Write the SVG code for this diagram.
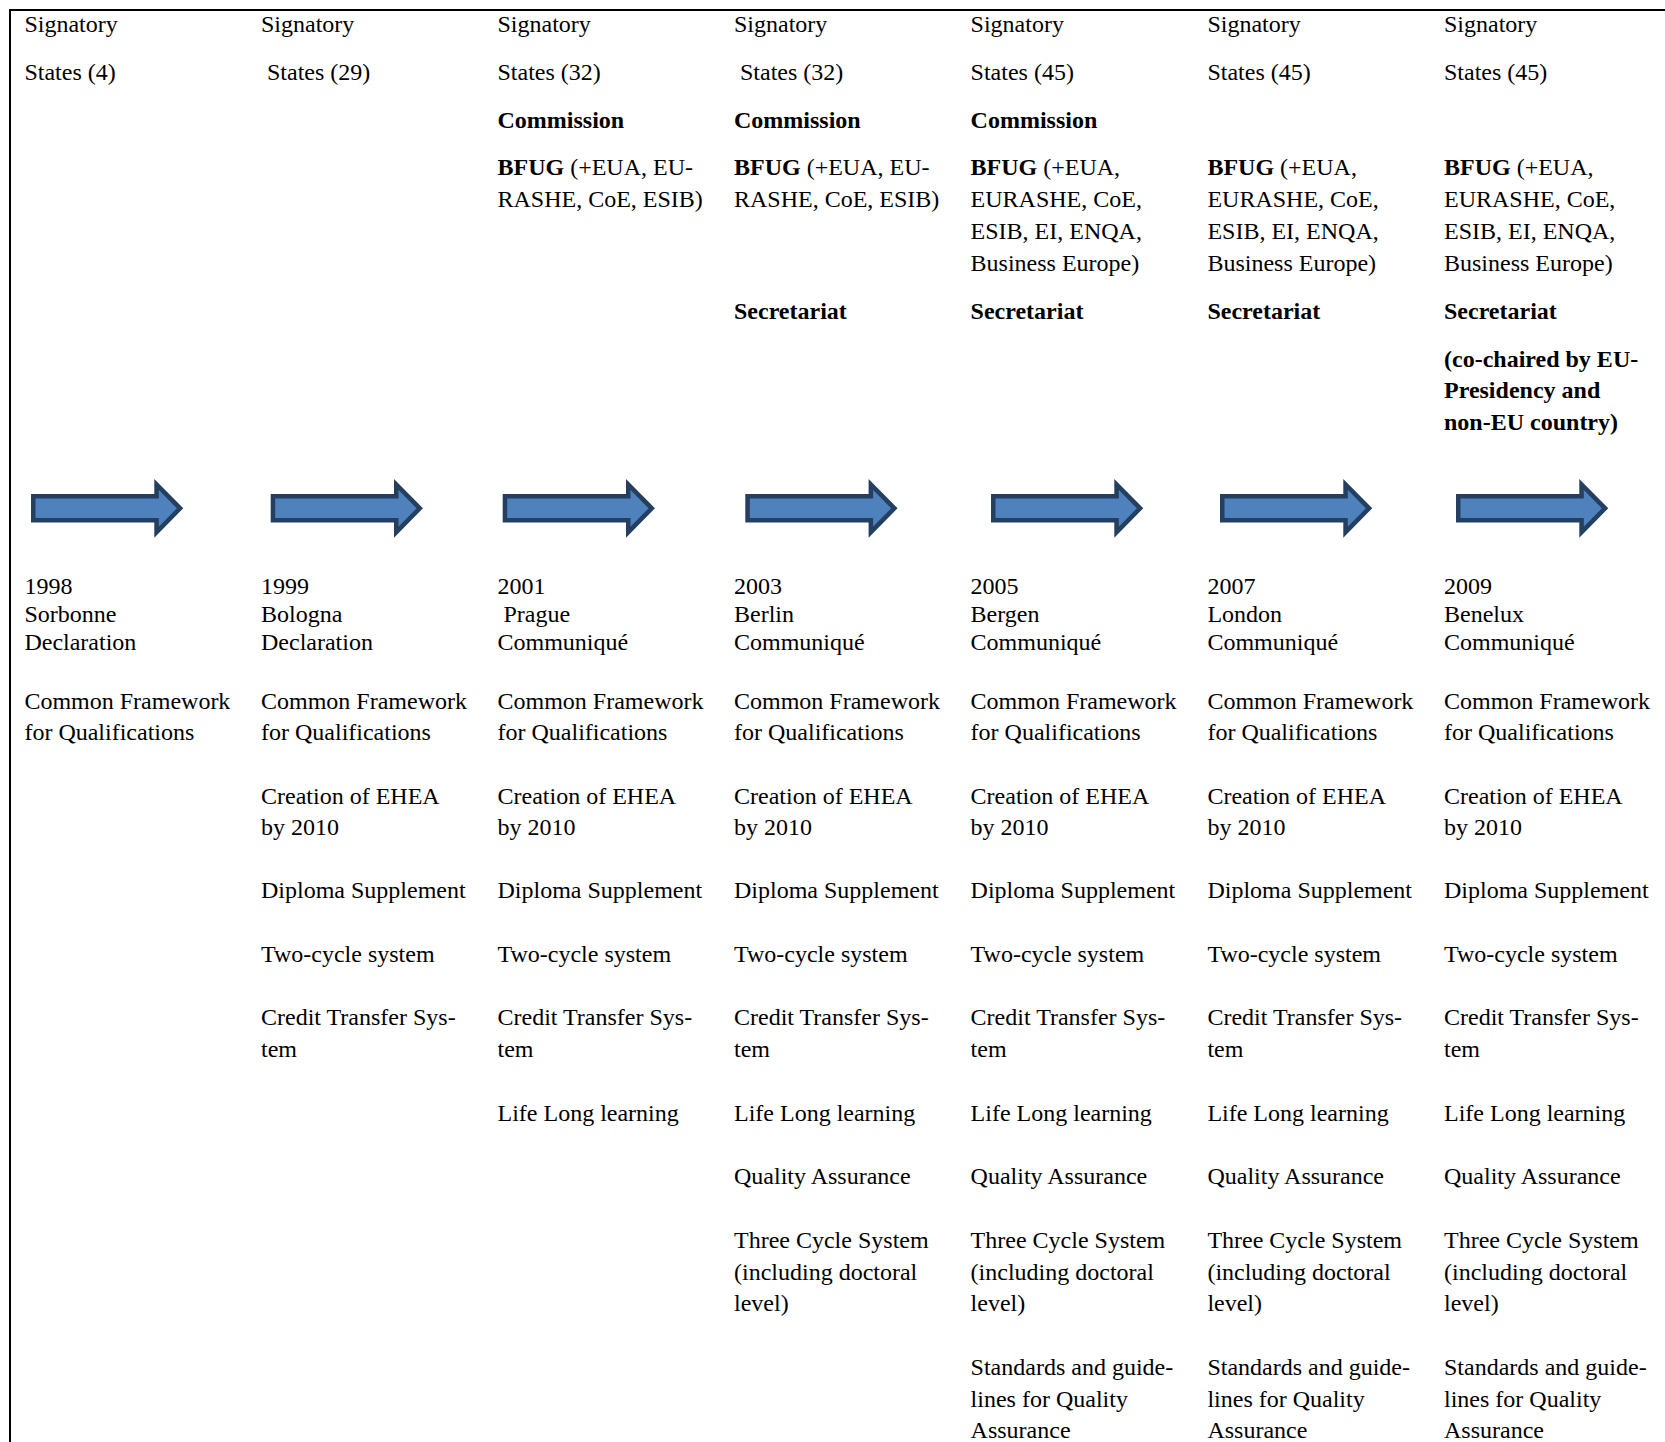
<svg xmlns="http://www.w3.org/2000/svg" xmlns:xlink="http://www.w3.org/1999/xlink" width="1665" height="1442" viewBox="0 0 1665 1442">
<style>
text { font-family: "Liberation Serif", "Times New Roman", serif; font-size: 24px; fill: #000; }
.b { font-weight: bold; }
.arrow { fill: #4F81BD; stroke: #243F60; stroke-width: 4.5; stroke-linejoin: miter; }
.frame { stroke: #000; stroke-width: 2; fill: none; }
</style>
<defs>
<path id="arr" class="arrow" d="M2.25,496.25 H125.55 V484.4 L149.1,508.3 L125.55,532.2 V520.35 H2.25 Z"/>
</defs>
<rect width="1665" height="1442" fill="#fff"/>
<g id="frame">
<line class="frame" x1="9" y1="10" x2="1665" y2="10"/>
<line class="frame" x1="10" y1="9" x2="10" y2="1442"/>
</g>
<g id="connectors">
<use xlink:href="#arr" x="31"/>
<use xlink:href="#arr" x="270.7"/>
<use xlink:href="#arr" x="502.7"/>
<use xlink:href="#arr" x="745.3"/>
<use xlink:href="#arr" x="991"/>
<use xlink:href="#arr" x="1220"/>
<use xlink:href="#arr" x="1456"/>
</g>
<g id="col-1998">
<text x="24.4" y="32">Signatory</text>
<text x="24.4" y="80">States (4)</text>
<text x="24.4" y="594">1998</text>
<text x="24.4" y="622">Sorbonne</text>
<text x="24.4" y="650">Declaration</text>
<text x="24.4" y="709">Common Framework</text>
<text x="24.4" y="740">for Qualifications</text>
</g>
<g id="col-1999">
<text x="261" y="32">Signatory</text>
<text x="267" y="80">States (29)</text>
<text x="261" y="594">1999</text>
<text x="261" y="622">Bologna</text>
<text x="261" y="650">Declaration</text>
<text x="261" y="709">Common Framework</text>
<text x="261" y="740">for Qualifications</text>
<text x="261" y="804">Creation of EHEA</text>
<text x="261" y="835">by 2010</text>
<text x="261" y="898">Diploma Supplement</text>
<text x="261" y="962">Two-cycle system</text>
<text x="261" y="1025">Credit Transfer Sys-</text>
<text x="261" y="1057">tem</text>
</g>
<g id="col-2001">
<text x="497.5" y="32">Signatory</text>
<text x="497.5" y="80">States (32)</text>
<text x="497.5" y="128" class="b">Commission</text>
<text x="497.5" y="175"><tspan class="b">BFUG</tspan> (+EUA, EU-</text>
<text x="497.5" y="207">RASHE, CoE, ESIB)</text>
<text x="497.5" y="594">2001</text>
<text x="503.5" y="622">Prague</text>
<text x="497.5" y="650">Communiqué</text>
<text x="497.5" y="709">Common Framework</text>
<text x="497.5" y="740">for Qualifications</text>
<text x="497.5" y="804">Creation of EHEA</text>
<text x="497.5" y="835">by 2010</text>
<text x="497.5" y="898">Diploma Supplement</text>
<text x="497.5" y="962">Two-cycle system</text>
<text x="497.5" y="1025">Credit Transfer Sys-</text>
<text x="497.5" y="1057">tem</text>
<text x="497.5" y="1121">Life Long learning</text>
</g>
<g id="col-2003">
<text x="734" y="32">Signatory</text>
<text x="740" y="80">States (32)</text>
<text x="734" y="128" class="b">Commission</text>
<text x="734" y="175"><tspan class="b">BFUG</tspan> (+EUA, EU-</text>
<text x="734" y="207">RASHE, CoE, ESIB)</text>
<text x="734" y="319" class="b">Secretariat</text>
<text x="734" y="594">2003</text>
<text x="734" y="622">Berlin</text>
<text x="734" y="650">Communiqué</text>
<text x="734" y="709">Common Framework</text>
<text x="734" y="740">for Qualifications</text>
<text x="734" y="804">Creation of EHEA</text>
<text x="734" y="835">by 2010</text>
<text x="734" y="898">Diploma Supplement</text>
<text x="734" y="962">Two-cycle system</text>
<text x="734" y="1025">Credit Transfer Sys-</text>
<text x="734" y="1057">tem</text>
<text x="734" y="1121">Life Long learning</text>
<text x="734" y="1184">Quality Assurance</text>
<text x="734" y="1248">Three Cycle System</text>
<text x="734" y="1280">(including doctoral</text>
<text x="734" y="1311">level)</text>
</g>
<g id="col-2005">
<text x="970.6" y="32">Signatory</text>
<text x="970.6" y="80">States (45)</text>
<text x="970.6" y="128" class="b">Commission</text>
<text x="970.6" y="175"><tspan class="b">BFUG</tspan> (+EUA,</text>
<text x="970.6" y="207">EURASHE, CoE,</text>
<text x="970.6" y="239">ESIB, EI, ENQA,</text>
<text x="970.6" y="271">Business Europe)</text>
<text x="970.6" y="319" class="b">Secretariat</text>
<text x="970.6" y="594">2005</text>
<text x="970.6" y="622">Bergen</text>
<text x="970.6" y="650">Communiqué</text>
<text x="970.6" y="709">Common Framework</text>
<text x="970.6" y="740">for Qualifications</text>
<text x="970.6" y="804">Creation of EHEA</text>
<text x="970.6" y="835">by 2010</text>
<text x="970.6" y="898">Diploma Supplement</text>
<text x="970.6" y="962">Two-cycle system</text>
<text x="970.6" y="1025">Credit Transfer Sys-</text>
<text x="970.6" y="1057">tem</text>
<text x="970.6" y="1121">Life Long learning</text>
<text x="970.6" y="1184">Quality Assurance</text>
<text x="970.6" y="1248">Three Cycle System</text>
<text x="970.6" y="1280">(including doctoral</text>
<text x="970.6" y="1311">level)</text>
<text x="970.6" y="1375">Standards and guide-</text>
<text x="970.6" y="1407">lines for Quality</text>
<text x="970.6" y="1438">Assurance</text>
</g>
<g id="col-2007">
<text x="1207.4" y="32">Signatory</text>
<text x="1207.4" y="80">States (45)</text>
<text x="1207.4" y="175"><tspan class="b">BFUG</tspan> (+EUA,</text>
<text x="1207.4" y="207">EURASHE, CoE,</text>
<text x="1207.4" y="239">ESIB, EI, ENQA,</text>
<text x="1207.4" y="271">Business Europe)</text>
<text x="1207.4" y="319" class="b">Secretariat</text>
<text x="1207.4" y="594">2007</text>
<text x="1207.4" y="622">London</text>
<text x="1207.4" y="650">Communiqué</text>
<text x="1207.4" y="709">Common Framework</text>
<text x="1207.4" y="740">for Qualifications</text>
<text x="1207.4" y="804">Creation of EHEA</text>
<text x="1207.4" y="835">by 2010</text>
<text x="1207.4" y="898">Diploma Supplement</text>
<text x="1207.4" y="962">Two-cycle system</text>
<text x="1207.4" y="1025">Credit Transfer Sys-</text>
<text x="1207.4" y="1057">tem</text>
<text x="1207.4" y="1121">Life Long learning</text>
<text x="1207.4" y="1184">Quality Assurance</text>
<text x="1207.4" y="1248">Three Cycle System</text>
<text x="1207.4" y="1280">(including doctoral</text>
<text x="1207.4" y="1311">level)</text>
<text x="1207.4" y="1375">Standards and guide-</text>
<text x="1207.4" y="1407">lines for Quality</text>
<text x="1207.4" y="1438">Assurance</text>
</g>
<g id="col-2009">
<text x="1444" y="32">Signatory</text>
<text x="1444" y="80">States (45)</text>
<text x="1444" y="175"><tspan class="b">BFUG</tspan> (+EUA,</text>
<text x="1444" y="207">EURASHE, CoE,</text>
<text x="1444" y="239">ESIB, EI, ENQA,</text>
<text x="1444" y="271">Business Europe)</text>
<text x="1444" y="319" class="b">Secretariat</text>
<text x="1444" y="367" class="b">(co-chaired by EU-</text>
<text x="1444" y="398" class="b">Presidency and</text>
<text x="1444" y="430" class="b">non-EU country)</text>
<text x="1444" y="594">2009</text>
<text x="1444" y="622">Benelux</text>
<text x="1444" y="650">Communiqué</text>
<text x="1444" y="709">Common Framework</text>
<text x="1444" y="740">for Qualifications</text>
<text x="1444" y="804">Creation of EHEA</text>
<text x="1444" y="835">by 2010</text>
<text x="1444" y="898">Diploma Supplement</text>
<text x="1444" y="962">Two-cycle system</text>
<text x="1444" y="1025">Credit Transfer Sys-</text>
<text x="1444" y="1057">tem</text>
<text x="1444" y="1121">Life Long learning</text>
<text x="1444" y="1184">Quality Assurance</text>
<text x="1444" y="1248">Three Cycle System</text>
<text x="1444" y="1280">(including doctoral</text>
<text x="1444" y="1311">level)</text>
<text x="1444" y="1375">Standards and guide-</text>
<text x="1444" y="1407">lines for Quality</text>
<text x="1444" y="1438">Assurance</text>
</g>
</svg>
